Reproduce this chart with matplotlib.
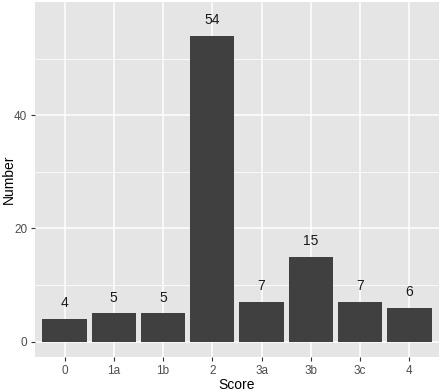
import matplotlib.pyplot as plt

plt.rcParams['font.family'] = ['Liberation Sans', 'DejaVu Sans']

# Data
scores = ['0', '1a', '1b', '2', '3a', '3b', '3c', '4']
counts = [4, 5, 5, 54, 7, 15, 7, 6]

fig = plt.figure(figsize=(4.4, 3.91), dpi=100)
ax = fig.add_axes([0.0795, 0.087, 0.918, 0.908])

ax.set_facecolor('#E5E5E5')
x = list(range(len(scores)))
ax.bar(x, counts, width=0.9, color='#404040', zorder=3)
for xi, c in zip(x, counts):
    ax.text(xi, c + 2.8, str(c), ha='center', va='center', fontsize=10, color='#1a1a1a', zorder=4)

ax.set_xlim(-0.6, 7.6)
ax.set_ylim(-2.7, 60)
ax.set_xticks(x)
ax.set_xticklabels(scores)
ax.set_yticks([0, 20, 40])
ax.set_yticks([10, 30, 50], minor=True)

ax.grid(True, which='major', color='white', linewidth=1.1, zorder=0)
ax.grid(True, which='minor', axis='y', color='white', linewidth=0.55, zorder=0)
ax.set_axisbelow(True)
for s in ax.spines.values():
    s.set_visible(False)
ax.tick_params(which='major', length=3, color='#333333', labelcolor='#4d4d4d', labelsize=8.5, pad=2.5)
ax.tick_params(which='minor', length=0)

ax.set_xlabel('Score', fontsize=10, labelpad=1)
ax.set_ylabel('Number', fontsize=10)
ax.yaxis.set_label_coords(-0.064, 0.5)
ax.yaxis.label.set_va('center')

plt.savefig('out.png', dpi=100)
